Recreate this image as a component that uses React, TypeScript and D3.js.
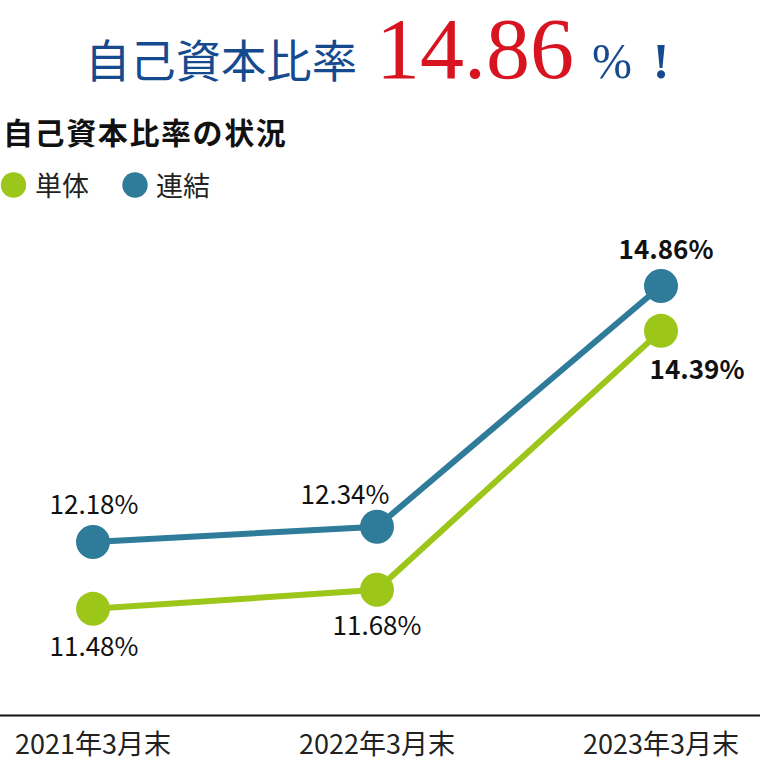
import { useEffect } from 'react';
import * as d3 from 'd3';

// data
const categories = ['2021年3月末', '2022年3月末', '2023年3月末'];
const tantai = [11.48, 11.68, 14.39]; // 単体
const renketsu = [12.18, 12.34, 14.86]; // 連結
const headlineValue = '14.86';

const series = [
  { name: '単体', values: tantai, color: '#9DC61A' },
  { name: '連結', values: renketsu, color: '#2E7B9A' },
];

// label placement relative to each point (dx, dy, bold)
const labelOffsets: Record<string, { dx: number; dy: number; bold: boolean }[]> = {
  単体: [
    { dx: 1, dy: 47, bold: false },
    { dx: 0, dy: 45, bold: false },
    { dx: 36, dy: 48, bold: true },
  ],
  連結: [
    { dx: 1, dy: -28, bold: false },
    { dx: -32, dy: -23, bold: false },
    { dx: 5, dy: -27, bold: true },
  ],
};

const width = 760;
const height = 761;
const sansFont = '"Noto Sans CJK JP", "Noto Sans", sans-serif';
const serifFont = '"Liberation Serif", "DejaVu Serif", serif';

export default function App() {
  useEffect(() => {
    document.body.style.margin = '0';
  }, []);

  const x = d3.scalePoint<string>().domain(categories).range([93, 661]);
  const y = d3.scaleLinear().domain([11, 15]).range([654.7, 272.6]);

  const line = d3
    .line<number>()
    .x((_, i) => x(categories[i])!)
    .y((d) => y(d));

  return (
    <svg width={width} height={height} style={{ display: 'block', background: '#fff' }}>
      {/* headline */}
      <text
        x={85}
        y={78}
        fontFamily={sansFont}
        fontWeight={400}
        fontSize={45}
        fill="#154A8E"
        textLength={272}
        lengthAdjust="spacingAndGlyphs"
      >
        自己資本比率
      </text>
      <text
        x={376}
        y={78}
        fontFamily={serifFont}
        fontSize={87}
        fill="#D7141F"
        textLength={198}
        lengthAdjust="spacingAndGlyphs"
      >
        {headlineValue}
      </text>
      <text x={592} y={78} fontFamily={serifFont} fontSize={50} fill="#154A8E" textLength={40} lengthAdjust="spacingAndGlyphs">
        %
      </text>
      <text x={661} y={78} fontFamily={serifFont} fontWeight={700} fontSize={50} fill="#154A8E" textAnchor="middle">
        !
      </text>

      {/* subtitle */}
      <text x={3} y={144} fontFamily={sansFont} fontWeight={700} fontSize={30} fill="#111" letterSpacing={1.6}>
        自己資本比率の状況
      </text>

      {/* legend */}
      <g fontFamily={sansFont} fontSize={27} fill="#222">
        <circle cx={13.5} cy={185} r={12.7} fill={series[0].color} />
        <text x={35} y={196}>
          {series[0].name}
        </text>
        <circle cx={135} cy={185} r={12.7} fill={series[1].color} />
        <text x={156} y={196}>
          {series[1].name}
        </text>
      </g>

      {/* baseline */}
      <line x1={0} x2={width} y1={715.5} y2={715.5} stroke="#111" strokeWidth={2.2} />

      {/* category labels */}
      <g fontFamily={sansFont} fontSize={27} fill="#222" textAnchor="middle">
        {categories.map((c) => (
          <text key={c} x={x(c)} y={754}>
            {c}
          </text>
        ))}
      </g>

      {/* lines and points */}
      {series.map((s) => (
        <g key={s.name}>
          <path d={line(s.values) ?? ''} fill="none" stroke={s.color} strokeWidth={6} />
          {s.values.map((v, i) => (
            <circle key={i} cx={x(categories[i])} cy={y(v)} r={17} fill={s.color} />
          ))}
        </g>
      ))}

      {/* value labels */}
      <g fontFamily={sansFont} fontSize={26} fill="#111" textAnchor="middle">
        {series.map((s) =>
          s.values.map((v, i) => {
            const o = labelOffsets[s.name][i];
            return (
              <text
                key={`${s.name}-${i}`}
                x={x(categories[i])! + o.dx}
                y={y(v) + o.dy}
                fontWeight={o.bold ? 700 : 400}
              >
                {v.toFixed(2)}%
              </text>
            );
          })
        )}
      </g>
    </svg>
  );
}
